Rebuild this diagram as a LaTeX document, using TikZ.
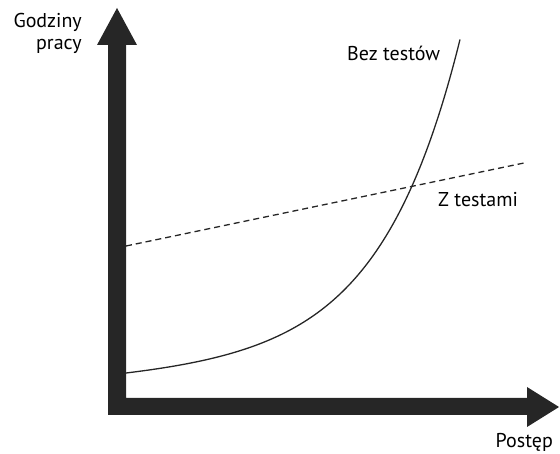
\documentclass[tikz,border=0pt]{standalone}
\usepackage{fontspec}
\setmainfont{PT Sans}
\begin{document}
\begin{tikzpicture}[x=1pt,y=-1pt,
  axisfill/.style={fill=axisgray,draw=none},
  lbl/.style={font=\fontsize{20}{22}\selectfont,text=black,inner sep=0pt},
  curveline/.style={line width=1.3pt,draw=black!85},
  dashline/.style={line width=1.3pt,draw=black!85,dash pattern=on 6pt off 4pt}]
\definecolor{axisgray}{HTML}{262626}
\useasboundingbox (0,0) rectangle (560,454);
% axes
\fill[axisfill] (108,415) -- (108,45) -- (97,45) -- (117,8) -- (137,45) -- (126,45) -- (126,398) -- (527,398) -- (527,387) -- (559,407) -- (527,427) -- (527,415) -- cycle;
% curves
\coordinate (d0) at (126,246);
\coordinate (d1) at (524,163);
\draw[curveline] plot[domain=0:334,samples=120,smooth] ({126+\x},{373-(4.9*(exp(0.0125*\x)-1)+0.06*\x)});
\draw[dashline] (d0) -- (d1);
% labels
\node[lbl,anchor=east] (g) at (82,22) {Godziny};
\node[lbl,anchor=east] (p) at (82,46) {pracy};
\node[lbl,anchor=west] (b) at (347,53) {Bez testów};
\node[lbl,anchor=west] (z) at (438,200) {Z testami};
\node[lbl,anchor=base east] (x) at (553,447) {Postęp};
\end{tikzpicture}
\end{document}
